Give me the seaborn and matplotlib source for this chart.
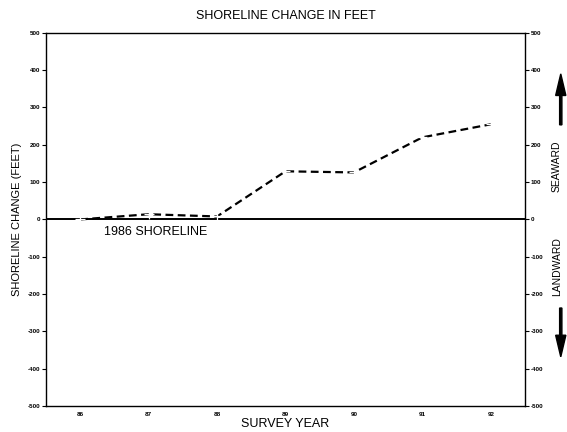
import matplotlib
matplotlib.use('Agg')
import matplotlib.pyplot as plt
import numpy as np
import pandas as pd
import seaborn as sns

# 数据
years = [86, 87, 88, 89, 90, 91, 92]
change_ft = [0, 14, 8, 129, 126, 220, 255]
year_labels = ['86', '87', '88', '89', '90', '91', '92']
y_ticks = [-500, -400, -300, -200, -100, 0, 100, 200, 300, 400, 500]

sns.set_theme(style='white')
plt.rcParams['font.family'] = ['Liberation Sans', 'DejaVu Sans']
plt.rcParams['text.color'] = 'black'
plt.rcParams['axes.labelcolor'] = 'black'

df = pd.DataFrame({'year': years, 'change': change_ft})

fig = plt.figure(figsize=(5.67, 4.32), dpi=100)
ax = fig.add_axes([0.081, 0.060, 0.845, 0.864])

# 1986 基线
ax.axhline(0, color='black', linewidth=1.4, zorder=1)

sns.lineplot(data=df, x='year', y='change', ax=ax, color='black',
             linestyle=(0, (3.5, 2.0)), linewidth=1.6, marker='+',
             markersize=7, markeredgewidth=0.9, zorder=3)

ax.set_xlim(85.5, 92.5)
ax.set_ylim(-500, 500)
ax.set_xticks(years)
ax.set_xticklabels(year_labels)
ax.set_yticks(y_ticks)
ax.set_yticklabels([str(v) for v in y_ticks])
ax.tick_params(axis='both', direction='out', length=3, width=0.8,
               labelsize=4.5, colors='black', pad=1)
for lab in ax.get_xticklabels() + ax.get_yticklabels():
    lab.set_fontweight('bold')

for s in ax.spines.values():
    s.set_color('black')
    s.set_linewidth(1.0)

# 右侧刻度
ax2 = ax.twinx()
ax2.set_ylim(-500, 500)
ax2.set_yticks(y_ticks)
ax2.set_yticklabels([str(v) for v in y_ticks])
ax2.tick_params(axis='y', direction='out', length=3, width=0.8,
                labelsize=4.5, colors='black', pad=1)
for lab in ax2.get_yticklabels():
    lab.set_fontweight('bold')
for s in ax2.spines.values():
    s.set_visible(False)

ax.set_title('SHORELINE CHANGE IN FEET', fontsize=9, pad=10)
ax.set_xlabel('SURVEY YEAR', fontsize=9, labelpad=1)
ax.set_ylabel('SHORELINE CHANGE (FEET)', fontsize=8, labelpad=4)

ax.text(86.35, -18, '1986 SHORELINE', fontsize=9, ha='left', va='top')

# 右侧方向标注
fig.text(0.982, 0.616, 'SEAWARD', rotation=90, fontsize=7.5, ha='center', va='center')
fig.text(0.982, 0.382, 'LANDWARD', rotation=90, fontsize=7.5, ha='center', va='center')
fig.patches.append(matplotlib.patches.FancyArrow(
    0.989, 0.711, 0, 0.118, width=0.004, head_width=0.018, head_length=0.05,
    length_includes_head=True, color='black', transform=fig.transFigure, figure=fig))
fig.patches.append(matplotlib.patches.FancyArrow(
    0.989, 0.287, 0, -0.113, width=0.004, head_width=0.018, head_length=0.05,
    length_includes_head=True, color='black', transform=fig.transFigure, figure=fig))

plt.savefig('out.png', dpi=100)
